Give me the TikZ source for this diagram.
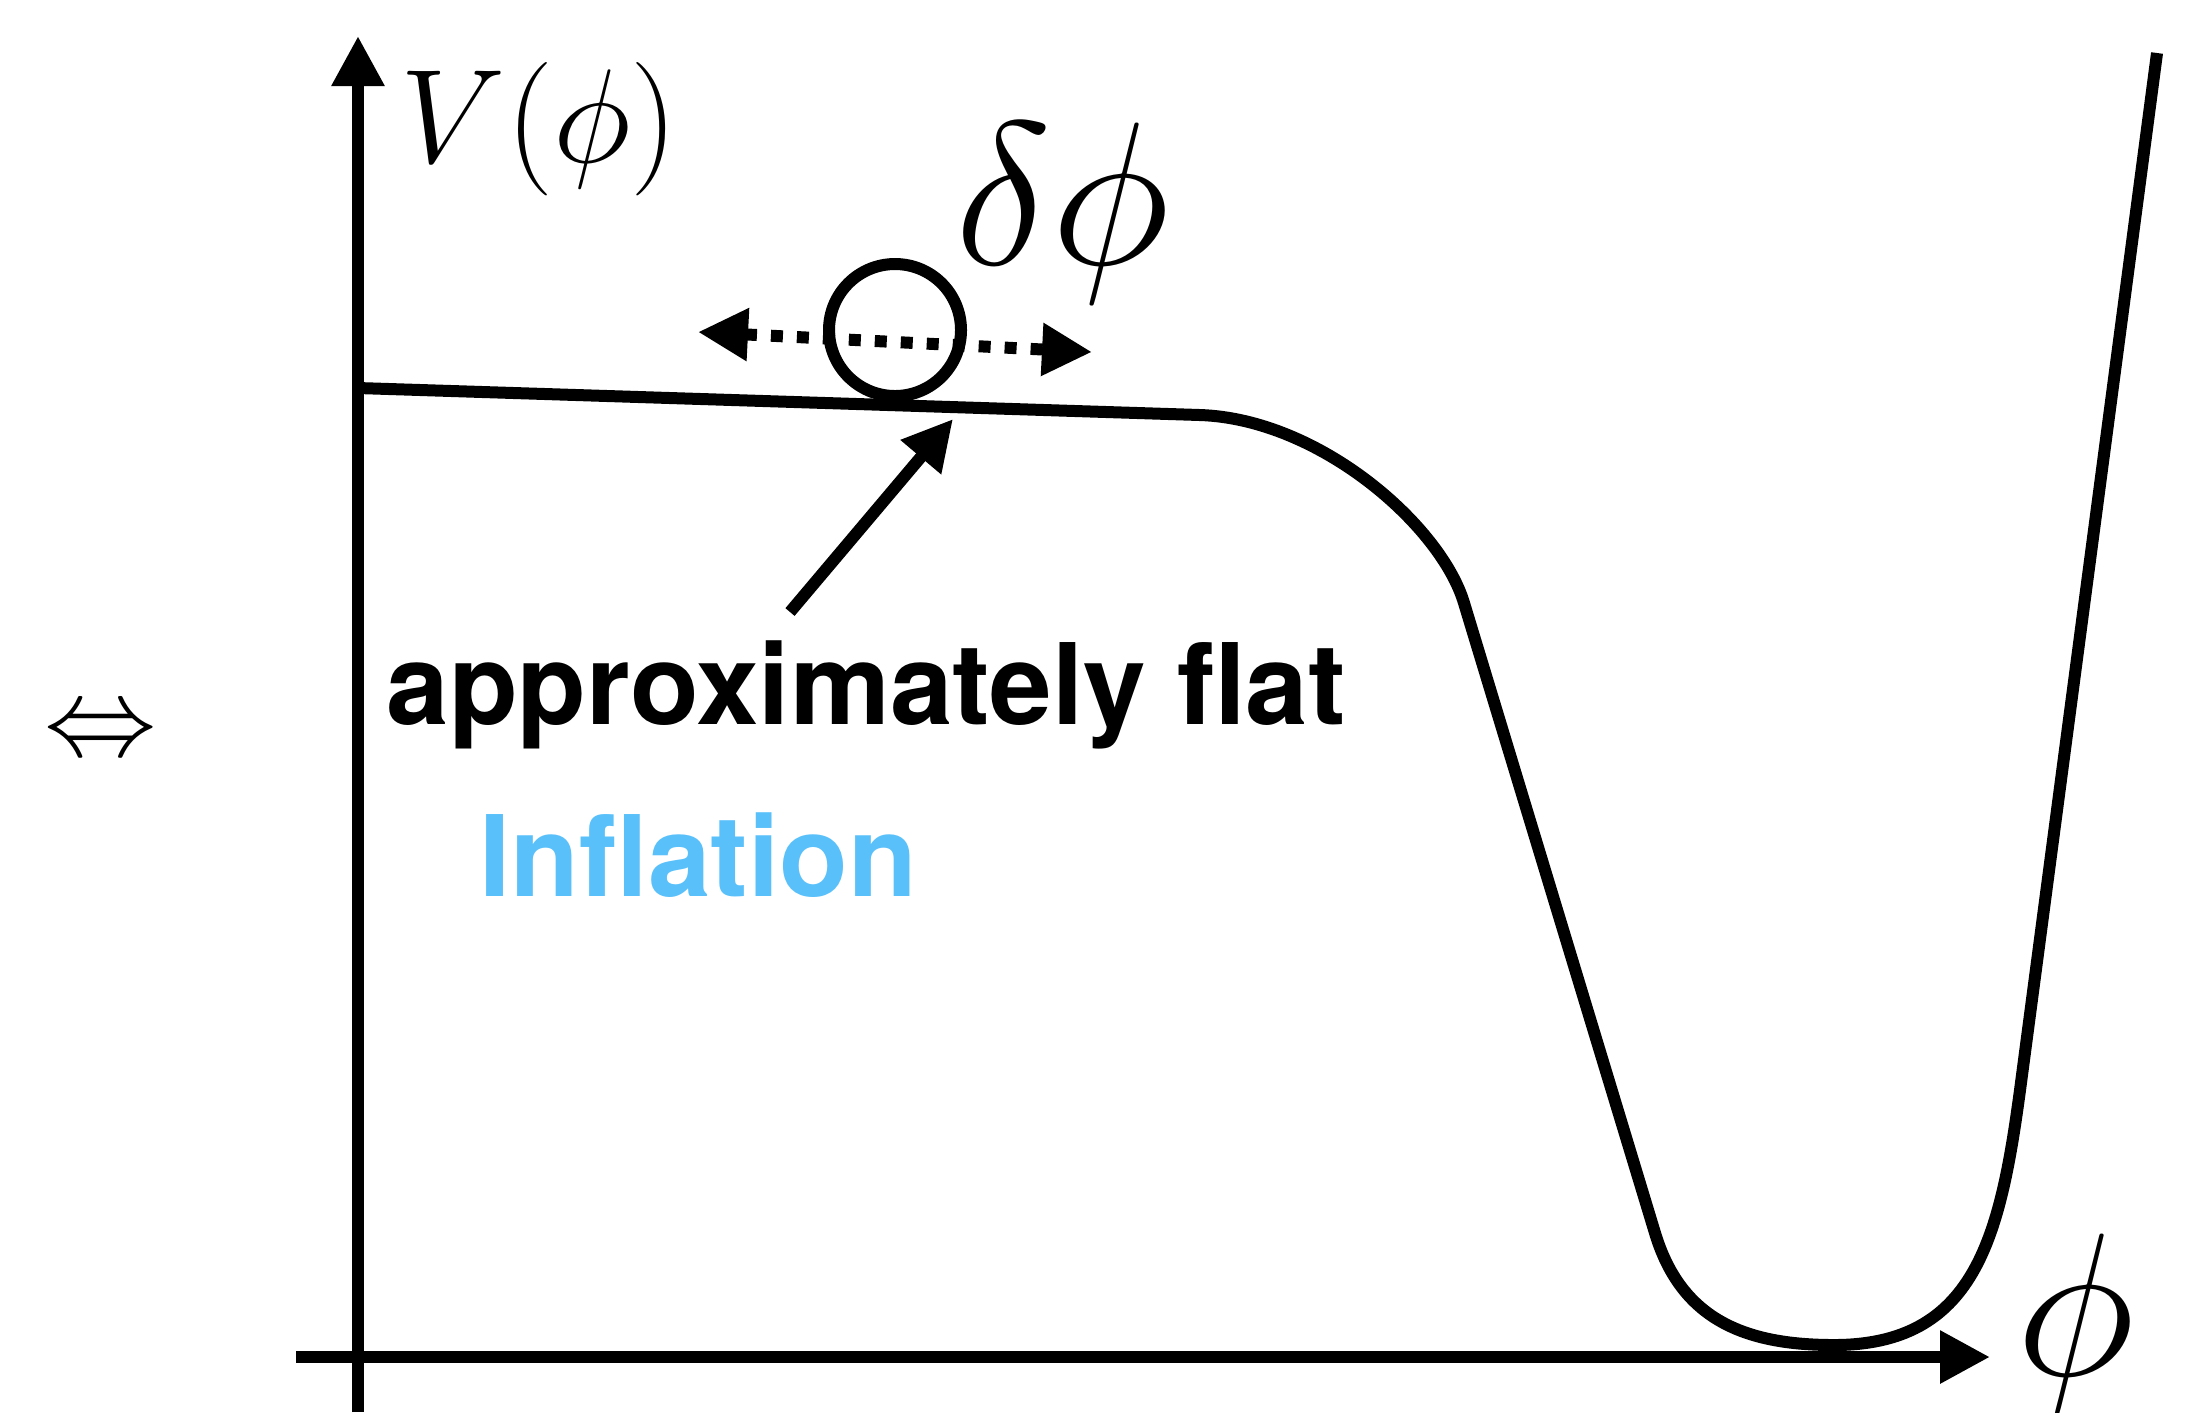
\RequirePackage{fix-cm}
\documentclass[tikz,border=0pt]{standalone}
\usepackage{fontspec}
\newfontfamily\heros{TeX Gyre Heros}
\usepackage{tikz}
\usetikzlibrary{arrows.meta}

\definecolor{inflblue}{RGB}{90,192,250}

\begin{document}
\begin{tikzpicture}[x=0.1mm, y=-0.1mm,
    pen/.style={line width=1.2mm},
    head/.style={-{Triangle[length=5mm,width=5mm]}},
    bigmath/.style={inner sep=0pt, font=\fontsize{58}{60}\selectfont},
    words/.style={inner sep=0pt, anchor=base west, font=\heros\bfseries\fontsize{32}{38}\selectfont}]
  \useasboundingbox (0,0) rectangle (2187,1412);

  % Axes
  \draw[pen, head] (296,1357) -- (1990,1357);
  \draw[pen, head] (358,1412) -- (358,36);
  \node[inner sep=0pt, anchor=base west, font=\fontsize{38}{40}\selectfont] (vlab) at (400,162) {$V(\phi)$};
  \node[bigmath, anchor=base west] (philab) at (2016,1375) {$\phi$};

  % Potential: plateau, fall, minimum, steep wall
  \draw[pen] (358,388) -- (1200,415)
    .. controls (1320,419) and (1441,526) .. (1464,603)
    -- (1655,1233)
    .. controls (1681,1319) and (1744,1345) .. (1834,1345)
    .. controls (1974,1345) and (2000,1239) .. (2020,1090)
    -- (2157,53);

  % Field on the plateau and its fluctuation
  \node[pen, draw, circle, minimum size=13.2mm, inner sep=0pt] (ball) at (895,330) {};
  \coordinate (kickl) at (698,332);
  \coordinate (kickr) at (1092,352);
  \draw[pen, dash pattern=on 1.2mm off 1.4mm,
        {Triangle[length=5mm,width=5mm]}-{Triangle[length=5mm,width=5mm]}] (kickl) -- (kickr);
  \node[bigmath, anchor=base west] (dphi) at (955,264) {$\delta\phi$};

  % Labels
  \node[words] (flat) at (386,724) {approximately flat};
  \node[words, text=inflblue] (infl) at (479,896) {Inflation};
  \coordinate (flattail) at (790,612);
  \coordinate (flattip) at (953,419);
  \draw[pen, head] (flattail) -- (flattip);

  \node[inner sep=0pt, font=\fontsize{32}{34}\selectfont] (equiv) at (101,735) {$\Leftrightarrow$};
\end{tikzpicture}
\end{document}
